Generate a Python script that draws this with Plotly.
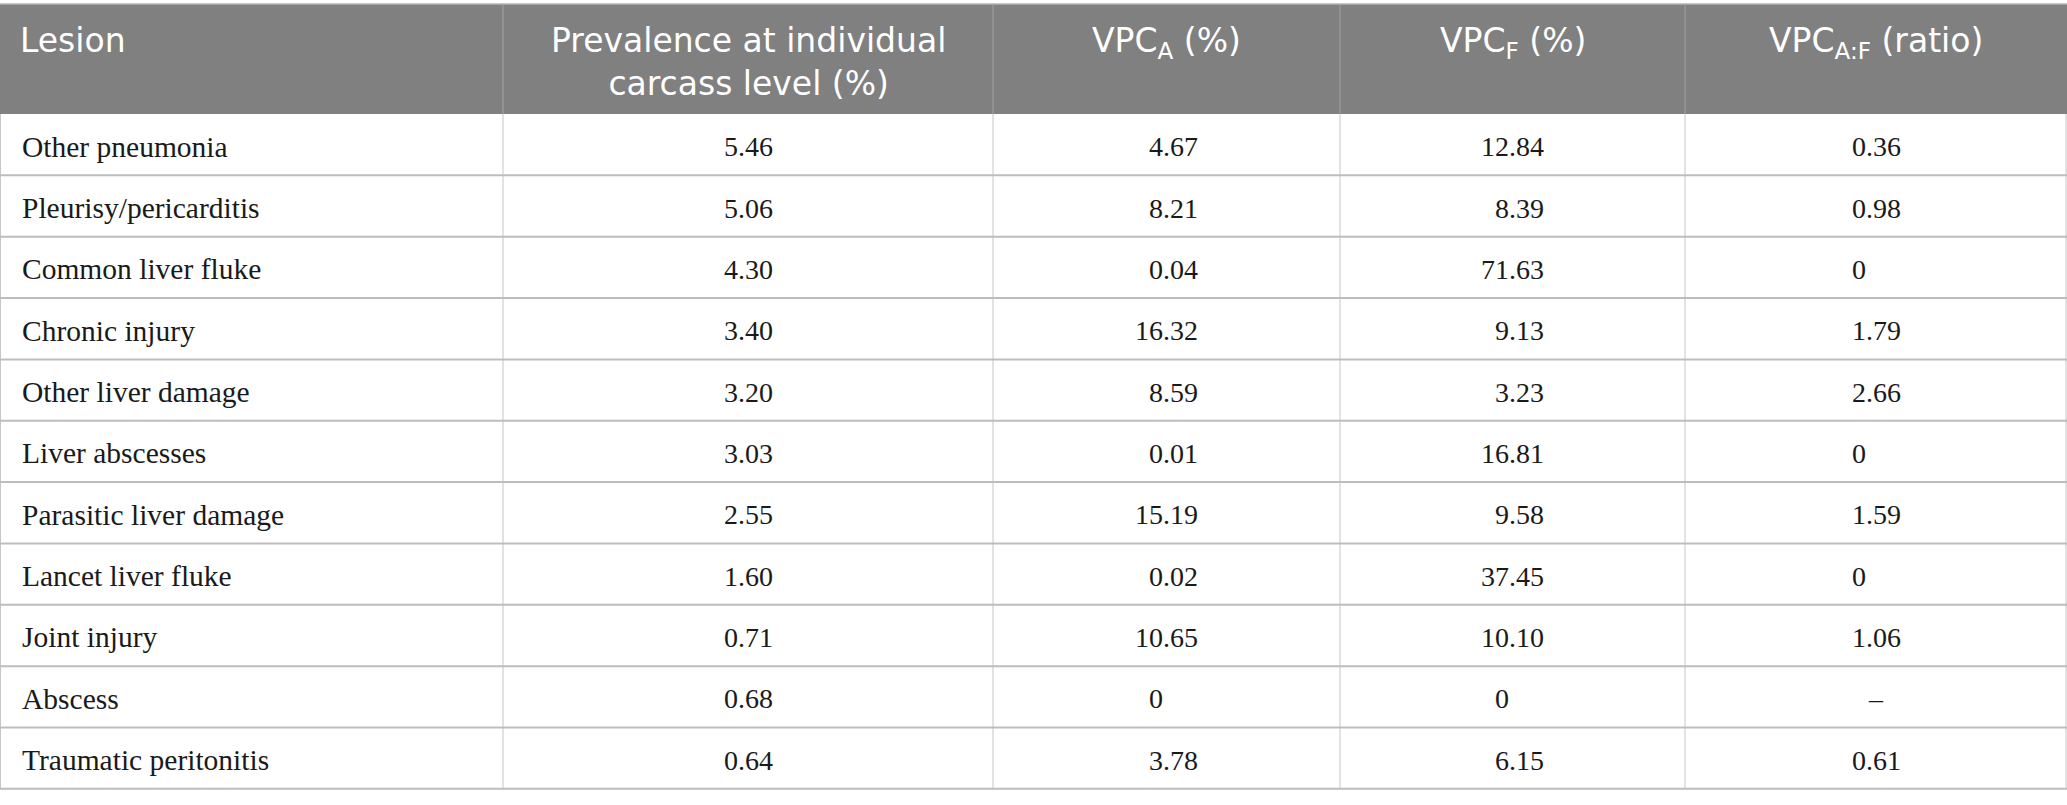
import numpy as np
import plotly.graph_objects as go

# Table values
lesions = [
    "Other pneumonia", "Pleurisy/pericarditis", "Common liver fluke", "Chronic injury",
    "Other liver damage", "Liver abscesses", "Parasitic liver damage", "Lancet liver fluke",
    "Joint injury", "Abscess", "Traumatic peritonitis",
]
prevalence = [5.46, 5.06, 4.30, 3.40, 3.20, 3.03, 2.55, 1.60, 0.71, 0.68, 0.64]
vpc_a = [4.67, 8.21, 0.04, 16.32, 8.59, 0.01, 15.19, 0.02, 10.65, 0, 3.78]
vpc_f = [12.84, 8.39, 71.63, 9.13, 3.23, 16.81, 9.58, 37.45, 10.10, 0, 6.15]
vpc_ratio = [0.36, 0.98, 0, 1.79, 2.66, 0, 1.59, 0, 1.06, None, 0.61]

headers = [
    "Lesion",
    "Prevalence at individual<br>carcass level (%)",
    "VPC<sub>A</sub> (%)",
    "VPC<sub>F</sub> (%)",
    "VPC<sub>A:F</sub> (ratio)",
]

FIG = "\u2007"   # figure space (digit width)
PUNC = "\u2008"  # punctuation space (period width)


def fmt(v, int_digits=1):
    # decimal-aligned text, like the journal layout
    if v is None:
        return "–"
    if v == 0:
        s = "0" + PUNC + FIG * 2
    else:
        s = f"{v:.2f}"
    ip = s.split(".")[0] if "." in s else "0"
    return FIG * (int_digits - len(ip)) + s


columns = [
    lesions,
    [fmt(v) for v in prevalence],
    [fmt(v, 2) for v in vpc_a],
    [fmt(v, 2) for v in vpc_f],
    [fmt(v) for v in vpc_ratio],
]

# layout in pixels (axes are set 1:1 to the page)
W, H = 2067, 805
col_w = [503, 490, 347, 345, 382]
edges = np.concatenate([[0], np.cumsum(col_w)])
top, head_h, row_h = 4, 110, 61.35
n_rows = len(lesions)
body_top = top + head_h
body_bot = body_top + n_rows * row_h

HEAD_FONT = dict(family="DejaVu Sans", size=33, color="white")
NAME_FONT = dict(family="Liberation Serif", size=29.5, color="#1a1a1a")
NUM_FONT = dict(family="Liberation Serif", size=28, color="#1a1a1a")

fig = go.Figure()

shapes = []
# header block
shapes.append(dict(type="rect", x0=0, x1=W, y0=top, y1=body_top,
                   fillcolor="#7f807f", line=dict(width=0), layer="below"))
shapes.append(dict(type="line", x0=0, x1=W, y0=top, y1=top,
                   line=dict(color="#b4b4b4", width=1.5)))
for x in edges[1:-1]:
    shapes.append(dict(type="line", x0=x, x1=x, y0=top, y1=body_top,
                       line=dict(color="#a3a3a3", width=1)))
# body grid
for x in list(edges[1:-1]) + [0.5, W - 1]:
    shapes.append(dict(type="line", x0=x, x1=x, y0=body_top, y1=body_bot,
                       line=dict(color="#c6c6c6", width=1)))
for i in range(n_rows):
    y = body_top + (i + 1) * row_h
    shapes.append(dict(type="line", x0=0, x1=W, y0=y, y1=y,
                       line=dict(color="#bdbdbd", width=2)))

annotations = []
for j, h in enumerate(headers):
    left = j == 0
    annotations.append(dict(
        x=edges[j] + 18 if left else (edges[j] + edges[j + 1]) / 2,
        y=top + 15, xanchor="left" if left else "center", yanchor="top",
        text=h, showarrow=False, font=HEAD_FONT, align="center",
    ))
for j, col in enumerate(columns):
    left = j == 0
    for i, t in enumerate(col):
        annotations.append(dict(
            x=edges[j] + 20 if left else (edges[j] + edges[j + 1]) / 2,
            y=body_top + (i + 0.5) * row_h + 2,
            xanchor="left" if left else "center", yanchor="middle",
            text=t, showarrow=False, font=NAME_FONT if left else NUM_FONT,
        ))

fig.update_layout(
    width=W, height=H,
    margin=dict(l=0, r=0, t=0, b=0),
    paper_bgcolor="white", plot_bgcolor="white",
    xaxis=dict(range=[0, W], visible=False, fixedrange=True),
    yaxis=dict(range=[H, 0], visible=False, fixedrange=True),
    shapes=shapes, annotations=annotations,
    showlegend=False,
)

fig.write_html("out.html", config={"displayModeBar": False},
               post_script="document.body.style.margin='0';")
